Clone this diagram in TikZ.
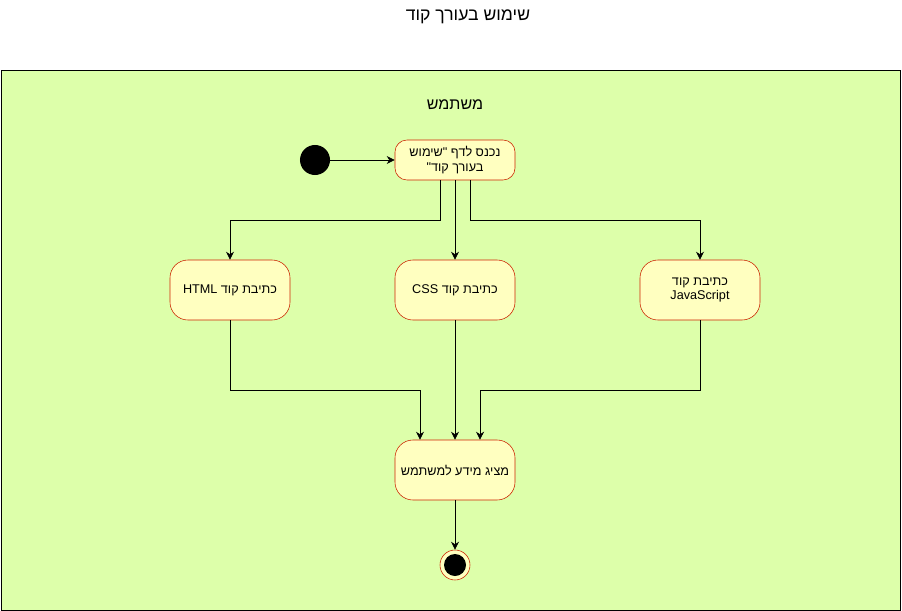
\documentclass[tikz,border=0pt]{standalone}
\usepackage{fontspec}
\newfontfamily\hebfont[Script=Hebrew]{Liberation Sans}
\TeXXeTstate=1
\usetikzlibrary{arrows.meta}
\definecolor{lanegreen}{HTML}{DDFFAA}
\definecolor{actfill}{HTML}{FFFFC0}
\definecolor{actline}{HTML}{CC2200}
\tikzset{
	act/.style={draw=actline,fill=actfill,rounded corners=0.45cm,minimum width=3cm,minimum height=1.5cm,align=center,font=\hebfont\fontsize{9}{10.5}\selectfont},
	flow/.style={-{Stealth[length=2mm,width=2mm]}}
}

\begin{document}
\begin{tikzpicture}[x=0.025cm,y=-0.025cm]
			\useasboundingbox (0,0) rectangle (902,611);
			\draw [fill=lanegreen] (1,70) rectangle (900,610);
			\node (title) at (468,17) {\hebfont\fontsize{12.5}{14}\selectfont\beginR שימוש בעורך קוד\endR};
			\node (lane) at (455,105) {\hebfont\fontsize{11.4}{13}\selectfont\beginR משתמש\endR};
			\node (start) [circle,fill=black,minimum size=0.75cm,inner sep=0pt] at (315,160) {};
			\node (enter) [act,minimum height=1cm,rounded corners=0.3cm] at (455,160) {\beginR נכנס לדף "\kern0pt שימוש\endR\\\beginR בעורך קוד\kern0pt"\endR};
			\node (html) [act] at (230,290) {\beginR כתיבת קוד \beginL HTML\endL\endR};
			\node (css) [act] at (455,290) {\beginR כתיבת קוד \beginL CSS\endL\endR};
			\node (js) [act] at (700,290) {\beginR כתיבת קוד\endR\\JavaScript};
			\node (show) [act] at (455,470) {\beginR מציג מידע למשתמש\endR};
			\node (stop) [circle,draw=actline,fill=actfill,minimum size=0.75cm,inner sep=0pt] at (455,565) {};
			\node (stopdot) [circle,fill=black,minimum size=0.55cm,inner sep=0pt] at (stop) {};
			\draw [flow] (start) -- (enter);
			\draw [flow] ([xshift=-0.375cm]enter.south) -- ++(0,40) -| (html.north);
			\draw [flow] (enter.south) -- (css.north);
			\draw [flow] ([xshift=0.375cm]enter.south) -- ++(0,40) -| (js.north);
			\draw [flow] (html.south) -- ++(0,70) -| ([xshift=-0.875cm]show.north);
			\draw [flow] (css.south) -- (show.north);
			\draw [flow] (js.south) -- ++(0,70) -| ([xshift=0.625cm]show.north);
			\draw [flow] (show.south) -- (stop.north);
		\end{tikzpicture}
\end{document}
